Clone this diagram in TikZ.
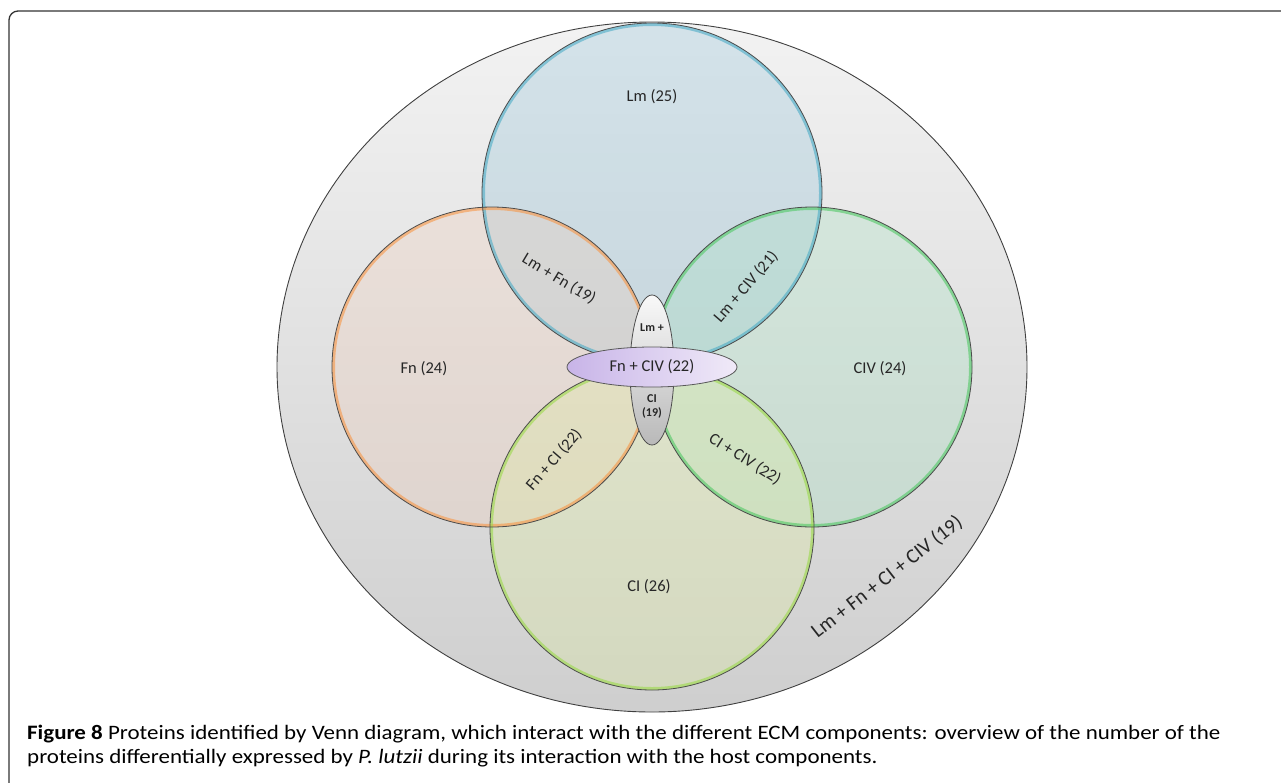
\documentclass[tikz,border=0pt]{standalone}
\usepackage{fontspec}
\setmainfont{Carlito}
\newfontfamily\capfont{Carlito}[FakeStretch=1.12]
\usepackage{tikz}

\definecolor{lmline}{RGB}{75,172,198}
\definecolor{lmfill}{RGB}{142,192,215}
\definecolor{fnline}{RGB}{247,150,70}
\definecolor{fnfill}{RGB}{240,205,185}
\definecolor{civline}{RGB}{80,200,100}
\definecolor{civfill}{RGB}{165,225,192}
\definecolor{ciline}{RGB}{155,217,74}
\definecolor{cifill}{RGB}{222,238,155}

\tikzset{
	setfill/.style={fill=#1, fill opacity=0.3, draw=none},
	setglow/.style={draw=#1, line width=3pt, opacity=0.6},
	setedge/.style={draw=black!70, line width=0.8pt},
	lab/.style={text=black!85, font=\fontsize{16.5}{18}\selectfont},
	small/.style={text=black!85, font=\bfseries\fontsize{12}{14}\selectfont, align=center}
}

\begin{document}
\begin{tikzpicture}[x=1pt, y=-1pt]
	\useasboundingbox (0,0) rectangle (1281,782);
	\draw[line width=1.3pt, black!80, rounded corners=9pt] (9,790) -- (9,11) -- (1290,11);
	% outer set
	\shade[top color=gray!10, bottom color=gray!38] (652,367) ellipse [x radius=375, y radius=345];
	\draw[black!75, line width=0.9pt] (652,367) ellipse [x radius=375, y radius=345];
	% the four sets
	\fill[setfill=lmfill] (652,193) circle (170);
	\fill[setfill=fnfill] (492,367) circle (160);
	\fill[setfill=civfill] (812,367) circle (160);
	\fill[setfill=cifill] (652,528) circle (162);
	\draw[setglow=lmline] (652,193) circle (168.5);
	\draw[setglow=fnline] (492,367) circle (158.5);
	\draw[setglow=civline] (812,367) circle (158.5);
	\draw[setglow=ciline] (652,528) circle (160.5);
	\draw[setedge] (652,193) circle (170);
	\draw[setedge] (492,367) circle (160);
	\draw[setedge] (812,367) circle (160);
	\draw[setedge] (652,528) circle (162);
	% centre
	\shade[top color=gray!5, bottom color=gray!55, draw=black!70, line width=0.8pt] (652,370) ellipse [x radius=22, y radius=75];
	\shade[left color={rgb,255:red,200;green,180;blue,232}, right color={rgb,255:red,240;green,234;blue,248}, draw=black!65, line width=0.8pt] (652,367) ellipse [x radius=85, y radius=20];
	\node[small] (lmp) at (652,328) {Lm +};
	\node[small] (ci19) at (652,406) {CI\\(19)};
	\node[lab] (all) at (652,367) {Fn + CIV (22)};
	% labels
	\node[lab] (lm) at (652,97) {Lm (25)};
	\node[lab] (fn) at (424,369) {Fn (24)};
	\node[lab] (civ) at (880,369) {CIV (24)};
	\node[lab] (ci) at (649,587) {CI (26)};
	\node[lab, rotate=-31] (lmfn) at (559,279) {Lm + Fn (19)};
	\node[lab, rotate=49] (lmciv) at (746,287) {Lm + CIV (21)};
	\node[lab, rotate=49] (fnci) at (554,460) {Fn + CI (22)};
	\node[lab, rotate=-32] (ciciv) at (745,459) {CI + CIV (22)};
	\node[lab, font=\fontsize{20.5}{22}\selectfont, rotate=38] (total) at (887,577) {Lm + Fn + CI + CIV (19)};
	% caption
	\node[anchor=base west, inner sep=0, font=\capfont\fontsize{20.5}{23}\selectfont] (cap1) at (27,739) {\textbf{Figure 8} Proteins identified by Venn diagram, which interact with the different ECM components: overview of the number of the};
	\node[anchor=base west, inner sep=0, font=\capfont\fontsize{20.5}{23}\selectfont] (cap2) at (27,763) {proteins differentially expressed by \textit{P. lutzii} during its interaction with the host components.};
\end{tikzpicture}
\end{document}
